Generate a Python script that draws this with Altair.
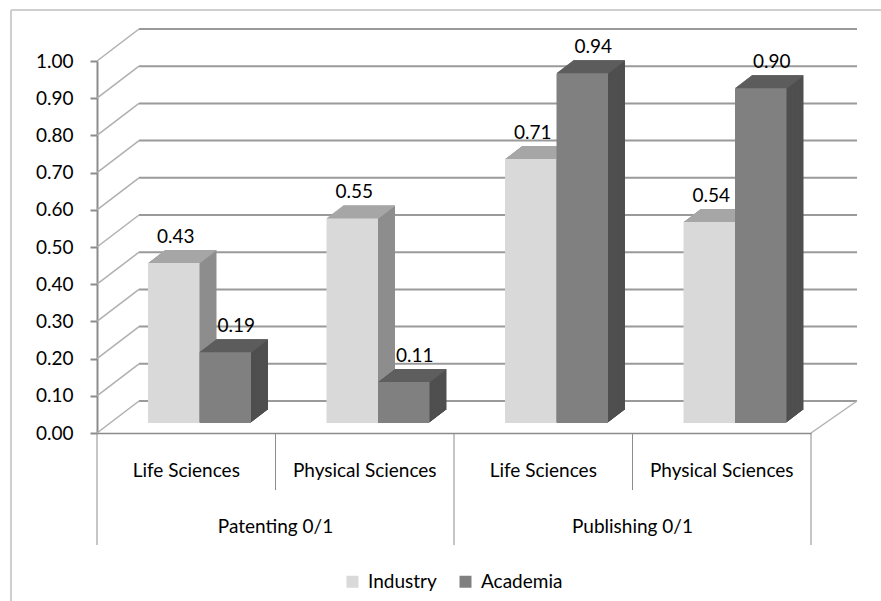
import altair as alt
import pandas as pd

# ---------------- data ----------------
groups = ["Patenting 0/1", "Patenting 0/1", "Publishing 0/1", "Publishing 0/1"]
fields = ["Life Sciences", "Physical Sciences", "Life Sciences", "Physical Sciences"]
industry = [0.43, 0.55, 0.71, 0.54]
academia = [0.19, 0.11, 0.94, 0.90]
series_names = ["Industry", "Academia"]
y_ticks = [0.0, 0.1, 0.2, 0.3, 0.4, 0.5, 0.6, 0.7, 0.8, 0.9, 1.0]

# ---------------- layout / style ----------------
W, H = 714, 372
FONT = "Lato"
FS = 19
GRID = "#9a9a9a"
DEPTH_X, DEPTH_Y = 17, 13      # bar depth (pixels)
WALL_X, WALL_Y = 42, 32        # wall depth (pixels)
STEPS = 13
BW = 51.5 / 178.5              # bar width as band fraction

series_style = {
    "Industry": dict(off=-12.5, front="#d9d9d9", top="#a6a6a6", side="#8d8d8d", ldx=2),
    "Academia": dict(off=39.0, front="#808080", top="#5e5e5e", side="#4f4f4f", ldx=11),
}

keys = [g + "|" + f for g, f in zip(groups, fields)]
rows = []
for i, k in enumerate(keys):
    for s, vals in zip(series_names, [industry, academia]):
        rows.append(dict(key=k, group=groups[i], field=fields[i], series=s,
                         value=vals[i], base=0.0, idx=i))
df = pd.DataFrame(rows)

cat_df = pd.DataFrame({"key": keys, "group": groups, "field": fields,
                       "first": [i == 0 or groups[i] != groups[i - 1] for i in range(len(keys))]})
grid_df = pd.DataFrame({"v": y_ticks})

xscale = alt.Scale(domain=keys, paddingInner=0, paddingOuter=0)
yscale = alt.Scale(domain=[0, 1], nice=False, zero=True)
color_scale = alt.Scale(domain=series_names,
                        range=[series_style[s]["front"] for s in series_names])

X_AXIS = alt.Axis(
    title=None, labelAngle=0, ticks=False, tickSize=0, domain=True, domainColor="#8c8c8c",
    domainWidth=1.5, labelExpr="split(datum.label, '|')[1]", labelFont=FONT,
    labelFontSize=FS, labelColor="black", labelBaseline="middle", labelPadding=37, grid=False)
Y_AXIS = alt.Axis(
    title=None, values=y_ticks, format=".2f", grid=False, domainColor="#8c8c8c",
    domainWidth=2, tickColor="#8c8c8c", tickWidth=2, tickSize=7, labelPadding=17,
    labelFont=FONT, labelFontSize=FS, labelColor="black")

Xn = alt.X("key:N", scale=xscale, axis=X_AXIS)
X0 = alt.X("key:N", scale=xscale, axis=X_AXIS, bandPosition=0)
Yn = alt.Y("value:Q", scale=yscale, axis=Y_AXIS)
Yv = alt.Y("v:Q", scale=yscale, axis=Y_AXIS)

layers = []

# outer frame (left and top edges of the chart area)
layers.append(alt.Chart(grid_df).mark_rule(color="#cfcfcf", strokeWidth=2).encode(
    x=alt.value(-86), y=alt.value(-51), y2=alt.value(545)))
layers.append(alt.Chart(grid_df).mark_rule(color="#cfcfcf", strokeWidth=2).encode(
    x=alt.value(-86), x2=alt.value(790), y=alt.value(-51)))

# back wall gridlines
layers.append(alt.Chart(grid_df).mark_rule(color=GRID, strokeWidth=2, yOffset=-WALL_Y).encode(
    x=alt.value(WALL_X), x2=alt.value(W + 46), y=Yv))
# side wall diagonals
layers.append(alt.Chart(grid_df).mark_rule(color="#b0b0b0", strokeWidth=1.5, y2Offset=-WALL_Y).encode(
    x=alt.value(0), x2=alt.value(WALL_X), y=Yv, y2="v:Q"))
# floor right edge
layers.append(alt.Chart(grid_df.head(1)).mark_rule(color="#b0b0b0", strokeWidth=1.5, y2Offset=-WALL_Y).encode(
    x=alt.value(W), x2=alt.value(W + 46), y=Yv, y2="v:Q"))

# category dividers
layers.append(alt.Chart(cat_df).transform_filter("datum.first").mark_rule(color="#8c8c8c", strokeWidth=1).encode(
    x=X0, y=alt.value(H), y2=alt.value(H + 112)))
layers.append(alt.Chart(cat_df).transform_filter("!datum.first").mark_rule(color="#8c8c8c", strokeWidth=1).encode(
    x=X0, y=alt.value(H), y2=alt.value(H + 57)))
layers.append(alt.Chart(cat_df.head(1)).mark_rule(color="#8c8c8c", strokeWidth=1).encode(
    x=alt.value(W), y=alt.value(H), y2=alt.value(H + 112)))

# group labels (centered between the two categories of each group)
layers.append(alt.Chart(cat_df).transform_filter("!datum.first").mark_text(
    font=FONT, fontSize=FS, color="black", baseline="middle").encode(
    x=X0, y=alt.value(H + 94), text="group:N"))

# bars with pseudo-3D faces
for s in series_names:
    st = series_style[s]
    d = alt.Chart(df).transform_filter(alt.datum.series == s)
    # side (sweep)
    for k in range(STEPS, 0, -1):
        dx = st["off"] + DEPTH_X * k / STEPS
        dy = -10 - DEPTH_Y * k / STEPS
        layers.append(d.mark_bar(color=st["side"], width={"band": BW},
                                 xOffset=dx, yOffset=dy, y2Offset=dy).encode(
            x=Xn, y=Yn, y2="base:Q"))
    # top face slices
    for k in range(STEPS, 0, -1):
        dx = st["off"] + DEPTH_X * (k - 0.5) / STEPS
        dy = -10 - DEPTH_Y * k / STEPS
        layers.append(d.mark_bar(color=st["top"], width={"band": BW},
                                 xOffset=dx, yOffset=dy, y2Offset=dy + 1.5).encode(
            x=Xn, y=Yn, y2="value:Q"))
    # front face
    layers.append(d.mark_bar(width={"band": BW}, xOffset=st["off"], yOffset=-10, y2Offset=-10).encode(
        x=Xn, y=Yn, y2="base:Q",
        color=alt.Color("series:N", scale=color_scale, legend=alt.Legend(
            orient="none", legendX=246, legendY=511, direction="horizontal", title=None,
            symbolType="square", symbolSize=144, symbolStrokeWidth=0, labelFont=FONT,
            labelFontSize=FS, labelColor="black", labelOffset=6, columnPadding=19, padding=0))))

# value labels
for s in series_names:
    st = series_style[s]
    layers.append(alt.Chart(df).transform_filter(alt.datum.series == s).mark_text(
        font=FONT, fontSize=FS, color="black", baseline="alphabetic",
        dx=st["off"] + st["ldx"], dy=-30).encode(
        x=Xn, y=Yn, text=alt.Text("value:Q", format=".2f")))

chart = alt.layer(*layers).properties(
    width=W, height=H,
    autosize=alt.AutoSizeParams(type="none"),
    padding={"left": 97, "top": 61, "right": 881 - 97 - W, "bottom": 601 - 61 - H},
    background="white",
).configure_view(stroke=None)

chart.save("out.html", embed_options={"renderer": "svg", "actions": False})
